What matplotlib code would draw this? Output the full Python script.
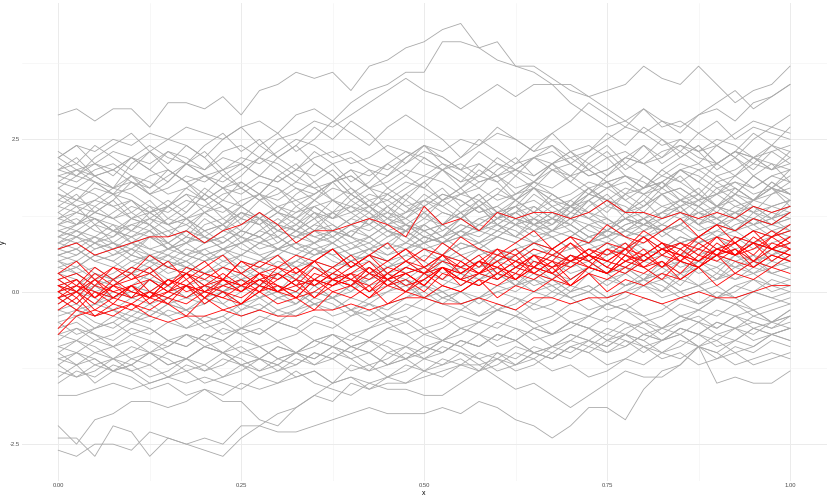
import matplotlib
matplotlib.use("Agg")
import matplotlib.pyplot as plt
import numpy as np

# x positions shared by every line
x_vals = np.linspace(0.0, 1.0, 41)

# gray series, values in tenths of y
gray_lines = [
    [29,30,28,30,30,27,31,31,30,32,29,33,34,36,35,36,33,37,38,40,41,43,44,40,41,37,37,35,33,32,30,28,30,27,28,26,28,25,27,26,25],
    [22,24,23,25,24,26,25,27,26,25,27,28,26,29,30,28,31,33,34,36,36,41,41,40,38,37,36,34,31,29,27,28,26,28,27,29,30,28,31,32,34],
    [20,19,21,20,22,21,23,22,20,23,24,22,25,26,28,27,29,31,33,35,33,32,30,32,34,32,34,34,34,32,33,34,37,35,34,37,34,31,33,34,37],
    [-22,-25,-21,-20,-18,-18,-19,-18,-16,-17,-15,-16,-15,-14,-13,-15,-12,-13,-10,-11,-9,-10,-8,-9,-7,-8,-6,-7,-5,-6,-8,-6,-5,-7,-5,-4,-6,-4,-3,-5,-3],
    [-24,-24,-27,-22,-23,-27,-24,-25,-24,-25,-22,-22,-23,-23,-22,-21,-20,-19,-20,-20,-20,-19,-20,-18,-19,-21,-22,-24,-22,-19,-19,-21,-16,-13,-12,-9,-10,-8,-9,-7,-8],
    [-26,-27,-25,-25,-26,-23,-24,-25,-26,-27,-24,-22,-20,-19,-17,-18,-15,-16,-14,-15,-13,-14,-12,-13,-11,-12,-10,-11,-9,-10,-8,-9,-7,-8,-6,-7,-5,-6,-5,-6,-5],
    [-17,-17,-16,-15,-16,-15,-14,-15,-14,-15,-16,-14,-15,-13,-15,-16,-17,-15,-14,-12,-13,-11,-12,-10,-11,-9,-10,-11,-9,-8,-10,-9,-7,-8,-6,-7,-9,-8,-6,-7,-6],
    [-14,-12,-15,-13,-14,-16,-15,-17,-16,-18,-18,-21,-22,-19,-17,-15,-14,-15,-16,-16,-17,-17,-15,-13,-10,-11,-9,-10,-8,-9,-7,-8,-10,-8,-7,-9,-7,-8,-6,-7,-6],
    [-10,-12,-11,-13,-12,-10,-11,-13,-12,-14,-13,-11,-12,-14,-13,-15,-14,-16,-15,-15,-14,-13,-12,-12,-14,-16,-15,-17,-19,-17,-15,-13,-14,-14,-12,-9,-15,-14,-15,-15,-13],
    [-12,-14,-13,-11,-12,-10,-12,-11,-9,-10,-12,-11,-13,-12,-10,-11,-9,-10,-12,-11,-13,-12,-11,-13,-12,-10,-11,-13,-12,-14,-13,-11,-12,-10,-11,-9,-10,-12,-11,-10,-11],
    [23,21,24,22,20,23,25,24,22,19,21,24,26,23,25,28,26,24,27,29,27,25,22,24,27,25,23,26,28,31,29,27,30,28,26,29,31,33,30,32,34],
    [22,24,21,19,22,20,18,21,23,20,17,19,22,24,21,19,16,18,21,19,17,20,22,25,23,21,24,26,23,21,19,22,24,21,23,26,24,22,25,27,26],
    [21,19,22,24,26,23,21,24,22,25,27,24,22,20,23,21,18,20,17,19,22,20,18,21,19,16,18,21,23,20,22,19,17,20,22,24,21,19,22,20,23],
    [20,22,19,17,19,16,18,21,19,17,14,16,19,17,15,18,20,17,19,22,24,21,19,17,20,22,19,21,18,16,19,21,24,22,25,23,20,22,19,21,18],
    [19,20,18,17,21,23,20,18,16,19,17,15,17,14,16,18,15,13,16,14,12,15,17,14,16,19,17,20,18,21,23,20,22,25,23,21,24,22,20,23,21],
    [18,17,19,20,22,20,23,21,24,26,23,25,22,24,27,25,28,26,23,21,24,22,20,23,21,19,22,24,21,23,26,24,27,25,22,24,21,23,26,24,27],
    [17,15,18,16,13,15,12,14,17,15,18,16,19,21,18,20,17,15,13,16,14,11,13,15,12,14,17,15,13,16,18,15,17,20,18,16,19,17,15,18,16],
    [16,15,17,16,19,17,20,18,15,17,19,22,20,18,21,19,16,14,17,15,18,20,17,19,22,20,18,21,19,22,24,21,19,17,20,18,21,23,21,24,22],
    [15,14,13,15,12,14,11,13,16,14,12,15,13,16,18,15,13,11,14,12,15,17,14,16,13,11,14,12,15,17,14,16,19,17,20,18,16,19,17,19,20],
    [14,16,13,15,18,16,14,17,15,12,14,16,13,11,14,12,15,17,14,16,18,15,17,20,18,15,13,16,14,17,15,12,14,16,13,15,18,16,19,17,15],
    [13,11,14,12,10,13,15,13,16,14,11,13,10,12,15,13,16,14,12,10,13,11,14,16,13,15,17,14,12,15,13,16,14,17,19,16,14,17,15,18,16],
    [12,14,11,13,15,12,14,16,13,11,14,12,9,11,13,10,12,14,11,13,16,14,12,15,17,15,18,16,14,17,15,13,16,18,15,17,14,16,19,17,20],
    [12,13,12,10,9,11,8,10,13,11,9,12,14,12,10,13,11,9,7,10,8,11,13,10,12,15,13,11,14,12,10,13,15,12,14,11,13,16,14,12,15],
    [11,12,10,9,12,11,9,12,10,8,10,13,11,14,12,15,17,14,12,15,13,10,12,14,11,13,16,14,12,15,17,15,13,16,14,11,14,12,15,17,14],
    [11,10,12,11,8,10,7,9,12,10,13,11,8,10,12,9,11,13,10,8,11,9,12,14,11,9,12,10,13,15,12,10,12,9,11,14,12,10,13,11,13],
    [10,11,13,12,13,11,14,12,9,11,8,10,12,10,13,11,9,12,14,11,13,15,13,10,12,14,11,13,11,14,16,13,15,18,16,14,17,15,13,16,18],
    [10,9,11,8,7,9,10,8,11,12,10,9,7,8,10,11,9,12,13,11,10,8,9,11,13,12,10,11,14,12,11,9,10,12,13,11,9,10,12,11,12],
    [9,11,12,10,8,9,7,8,10,11,13,12,10,9,11,13,14,12,10,11,9,8,10,12,13,11,12,14,15,13,12,10,11,13,14,16,14,13,15,14,15],
    [9,8,6,7,9,10,8,6,5,7,8,10,9,7,8,6,7,9,11,10,12,11,9,8,10,12,11,13,12,10,9,11,12,10,11,13,12,14,13,12,14],
    [8,10,9,11,10,12,11,9,8,10,12,11,13,12,10,9,7,8,10,9,11,13,12,10,11,13,14,12,11,9,10,12,11,13,15,14,12,13,11,12,10],
    [8,7,9,8,6,5,7,6,8,9,7,6,4,5,7,8,6,7,9,11,10,8,9,11,10,12,11,9,10,8,9,11,12,10,11,13,12,10,11,13,12],
    [7,6,8,10,9,7,8,6,5,6,8,9,11,10,8,9,11,12,10,9,7,8,10,9,11,10,8,7,9,11,10,12,13,11,10,12,11,13,14,12,13],
    [7,9,8,6,7,5,4,6,7,5,6,8,7,9,10,8,6,7,5,6,8,9,7,8,10,9,11,12,10,8,9,7,8,10,11,9,10,12,11,9,10],
    [6,5,7,8,6,9,8,10,9,7,6,8,9,7,6,8,10,9,11,10,8,9,11,10,12,13,11,10,12,11,9,10,12,14,13,11,12,10,12,14,13],
    [6,7,5,4,6,5,3,4,6,7,5,4,6,8,7,5,4,6,5,7,8,6,5,7,9,8,6,7,5,6,8,10,9,7,8,6,7,9,8,10,9],
    [5,6,8,7,5,6,4,5,7,8,10,9,7,6,8,10,9,8,6,7,9,8,10,12,11,9,8,10,9,11,12,10,9,11,10,8,9,11,12,10,11],
    [5,3,4,2,3,5,6,4,3,5,4,2,3,5,7,6,4,5,3,4,6,5,7,8,6,5,7,6,4,5,7,8,6,7,9,8,6,7,5,6,8],
    [4,5,3,2,4,6,5,7,6,4,3,5,6,4,5,7,8,6,5,3,4,6,8,7,5,6,8,9,7,8,10,9,7,6,8,9,11,10,8,9,10],
    [4,3,1,2,4,3,5,4,2,1,3,4,2,3,5,4,6,5,3,2,4,5,3,4,6,7,5,4,6,5,3,4,6,8,7,5,6,4,5,7,6],
    [3,4,6,5,3,4,2,3,5,6,4,5,7,6,4,3,5,7,6,8,7,5,6,4,5,7,8,6,7,9,8,6,5,7,9,8,10,9,7,8,9],
    [3,2,0,1,3,2,4,3,1,0,2,1,3,5,4,2,3,1,2,4,3,5,4,2,3,1,2,4,6,5,3,4,2,3,5,4,6,5,3,4,5],
    [2,3,1,2,4,3,5,4,3,1,2,4,3,1,2,4,5,3,4,6,5,3,4,6,7,5,4,6,5,7,8,6,5,7,6,8,9,7,8,6,7],
    [2,0,1,-1,0,2,1,-1,0,2,3,1,0,2,1,3,2,0,1,3,4,2,1,3,2,4,5,3,2,4,3,1,2,4,5,3,4,2,3,5,4],
    [1,2,0,-1,1,0,2,3,1,0,2,1,-1,0,2,1,3,4,2,1,3,2,4,5,3,2,4,3,5,6,4,3,5,4,6,7,5,4,6,5,7],
    [0,-2,1,-1,1,3,1,-1,1,-2,0,2,0,3,1,-1,1,4,2,0,2,5,3,1,3,1,4,2,5,3,1,3,6,4,2,5,3,6,4,7,5],
    [0,1,3,2,-1,0,-2,-1,1,0,-3,-1,0,-2,1,2,0,3,1,2,-1,1,3,2,4,1,2,0,2,4,3,1,2,5,3,4,2,5,6,3,4],
    [-1,-3,-2,0,-1,2,1,-1,-2,0,1,-1,-3,-2,0,-1,1,3,2,0,1,-1,0,2,4,3,1,2,0,3,5,4,2,3,1,4,2,3,5,4,6],
    [-2,0,-1,-3,-4,-2,-1,-3,-2,0,-2,-1,1,0,-2,-1,-3,-1,0,2,1,-1,0,-2,0,1,3,2,0,1,-1,1,2,0,3,1,2,4,3,1,2],
    [-3,-4,-2,-3,-5,-4,-2,-3,-1,-2,-4,-3,-1,0,-2,-1,-3,-4,-2,-1,1,0,-2,-1,1,2,0,-1,1,0,2,3,1,2,0,1,-1,1,2,0,1],
    [-4,-3,-5,-6,-4,-5,-3,-4,-6,-5,-3,-2,-4,-3,-1,-2,-4,-2,-3,-1,0,-2,-3,-1,0,-1,-3,-2,0,1,-1,0,2,1,-1,0,1,-1,0,2,1],
    [-5,-7,-6,-4,-5,-3,-4,-6,-5,-7,-6,-4,-5,-3,-2,-4,-3,-5,-4,-2,-3,-1,-2,-4,-3,-1,-2,0,-1,-3,-2,0,1,-1,0,-2,-1,1,0,-1,0],
    [-6,-5,-7,-8,-6,-7,-5,-6,-4,-5,-7,-6,-8,-7,-5,-6,-4,-3,-5,-4,-6,-5,-3,-4,-2,-3,-5,-4,-2,-1,-3,-2,-4,-3,-1,-2,0,-1,-3,-2,-1],
    [-7,-8,-6,-5,-7,-6,-8,-9,-7,-8,-6,-7,-5,-6,-8,-7,-9,-8,-6,-5,-7,-6,-4,-5,-3,-4,-6,-5,-3,-4,-2,-3,-5,-4,-2,-3,-1,-2,-4,-3,-2],
    [-8,-6,-7,-9,-8,-10,-9,-7,-8,-6,-7,-9,-8,-10,-9,-7,-8,-6,-5,-7,-6,-8,-7,-5,-6,-4,-5,-7,-6,-4,-5,-3,-4,-6,-5,-3,-4,-2,-3,-5,-4],
    [-9,-10,-8,-9,-7,-8,-10,-11,-9,-10,-8,-9,-11,-10,-8,-7,-9,-8,-10,-9,-7,-8,-6,-7,-9,-8,-6,-7,-5,-6,-8,-7,-5,-6,-4,-5,-7,-6,-4,-5,-3],
    [-10,-8,-9,-11,-10,-8,-9,-7,-8,-10,-9,-11,-12,-10,-11,-9,-10,-8,-9,-11,-10,-8,-9,-7,-8,-6,-7,-9,-8,-6,-7,-5,-6,-8,-7,-5,-6,-4,-5,-6,-4],
    [-11,-12,-10,-11,-13,-12,-10,-11,-9,-10,-12,-11,-9,-10,-8,-9,-11,-10,-12,-11,-9,-10,-8,-9,-7,-8,-10,-9,-7,-8,-9,-7,-8,-6,-7,-9,-8,-6,-7,-5,-6],
    [-12,-10,-11,-13,-12,-14,-13,-11,-12,-10,-11,-13,-12,-10,-11,-9,-10,-12,-11,-9,-10,-8,-9,-11,-10,-12,-11,-9,-10,-8,-9,-7,-8,-10,-9,-7,-8,-10,-9,-7,-8],
    [-13,-14,-12,-13,-11,-12,-14,-13,-15,-14,-12,-13,-11,-12,-10,-11,-13,-12,-14,-13,-11,-12,-10,-11,-13,-12,-10,-11,-9,-10,-12,-11,-9,-10,-8,-9,-11,-10,-12,-11,-10],
    [-15,-13,-14,-12,-13,-15,-14,-12,-13,-11,-12,-14,-13,-11,-12,-10,-11,-13,-12,-10,-11,-9,-10,-12,-11,-13,-12,-10,-11,-9,-10,-8,-9,-11,-10,-12,-11,-9,-10,-8,-9],
    [22,20,21,23,22,24,22,21,19,20,22,21,23,25,24,22,23,21,20,22,24,23,25,24,26,25,23,24,22,23,25,27,26,24,25,23,24,26,28,27,29],
    [20,21,19,20,18,17,19,21,20,22,21,19,18,20,22,23,21,22,24,23,21,20,18,19,21,20,22,23,21,19,20,22,21,23,24,22,21,23,22,24,23],
    [19,18,20,21,19,18,16,17,19,18,20,22,21,19,17,18,20,19,21,23,22,20,21,19,18,20,19,21,22,20,18,19,17,18,20,21,19,20,22,21,20],
    [17,19,18,16,17,19,20,18,19,17,16,18,17,15,16,18,19,17,18,20,19,21,20,18,19,21,22,20,21,19,20,22,21,19,18,20,21,23,22,20,21],
    [16,14,15,17,16,14,13,15,14,16,17,15,16,18,17,15,14,16,15,17,19,18,16,17,15,16,18,17,19,20,18,19,17,18,20,19,17,18,16,17,19],
    [15,17,16,14,15,13,14,16,15,17,18,16,15,17,16,18,19,17,16,18,17,15,16,18,19,17,18,20,19,17,18,16,17,19,21,20,18,19,21,20,22],
    [14,13,15,14,12,13,11,12,14,13,15,16,14,13,15,17,16,14,15,13,14,16,15,13,14,16,17,15,16,18,17,19,18,16,17,15,16,18,17,19,18],
    [13,15,14,16,15,13,14,12,13,15,14,12,11,13,14,12,13,15,16,14,15,13,12,14,16,15,17,16,14,15,17,18,16,17,15,14,16,17,15,16,17],
    [12,11,13,12,14,13,11,12,10,11,13,12,14,15,13,12,14,13,11,12,14,16,15,13,14,12,13,15,14,16,15,13,14,16,17,15,16,14,15,17,16],
    [11,13,12,10,11,12,10,11,13,14,12,11,13,12,14,15,13,14,12,13,15,14,16,15,13,14,15,13,14,16,15,17,16,14,15,13,14,16,15,17,16],
    [10,9,11,10,12,11,9,10,8,9,11,12,10,11,9,10,12,11,13,12,10,11,13,14,12,13,11,12,14,13,15,14,12,13,15,16,14,15,13,14,15],
    [9,10,8,9,11,10,12,11,9,8,10,9,11,10,12,13,11,10,12,11,9,10,12,11,13,14,12,11,13,12,14,13,11,12,14,15,13,12,14,13,14],
    [8,9,7,8,10,9,7,8,6,7,9,8,10,9,11,10,8,9,7,8,10,11,9,10,12,11,9,10,12,13,11,12,10,11,13,12,14,13,11,12,13],
    [7,8,9,7,8,6,7,9,8,10,9,7,8,10,9,8,10,11,9,10,8,9,11,10,9,11,12,10,11,9,10,12,11,13,12,10,11,13,12,11,12],
    [6,7,5,6,8,7,6,8,9,7,8,6,7,9,8,10,9,7,8,10,11,9,10,8,9,11,10,12,11,9,10,12,11,10,12,13,11,12,10,11,13],
    [5,4,6,5,7,6,4,5,3,4,6,5,7,8,6,7,5,6,8,7,9,8,6,7,9,8,10,9,7,8,10,9,11,10,8,9,11,10,12,11,10],
    [3,4,2,3,5,4,6,5,3,4,2,3,5,4,6,7,5,6,4,5,7,6,8,7,5,6,8,7,9,8,6,7,9,10,8,9,7,8,10,9,11],
    [1,0,2,1,3,2,0,1,-1,0,2,1,3,2,4,3,1,2,4,5,3,4,2,3,5,4,6,5,3,4,6,7,5,6,4,5,7,6,8,7,8],
    [-1,0,-2,-1,1,0,-1,1,2,0,1,-1,0,2,1,-1,0,2,3,1,2,0,1,3,2,4,3,1,2,4,3,5,4,2,3,5,4,6,5,3,4],
    [-3,-2,-4,-3,-1,-2,-4,-3,-5,-4,-2,-3,-1,-2,0,-1,-3,-2,0,1,-1,0,-2,-1,1,0,2,1,-1,0,2,1,3,2,0,1,3,2,4,3,2],
    [-5,-4,-6,-5,-3,-4,-2,-3,-5,-4,-6,-5,-3,-4,-2,-3,-1,-2,-4,-3,-1,-2,0,-1,-3,-2,0,1,-1,0,-2,-1,1,0,2,1,-1,0,2,1,0],
    [-7,-6,-8,-7,-5,-6,-8,-7,-9,-8,-6,-7,-5,-6,-4,-5,-7,-6,-4,-5,-3,-4,-6,-5,-3,-4,-2,-3,-5,-4,-2,-3,-1,-2,-4,-3,-1,-2,0,-1,-2],
    [-9,-8,-10,-9,-11,-10,-8,-9,-7,-8,-10,-9,-11,-10,-8,-9,-7,-8,-6,-7,-9,-8,-6,-7,-5,-6,-8,-7,-5,-6,-4,-5,-7,-6,-4,-5,-3,-4,-6,-5,-4],
    [-11,-10,-12,-11,-9,-10,-12,-11,-13,-12,-10,-11,-9,-10,-12,-11,-9,-10,-8,-9,-11,-10,-8,-9,-7,-8,-10,-9,-7,-8,-6,-7,-9,-8,-6,-7,-5,-6,-8,-7,-6],
    [18,20,19,17,18,16,17,19,18,20,21,19,18,20,19,21,22,20,19,21,23,22,20,21,19,20,22,21,23,24,22,23,21,22,24,23,25,24,22,23,24],
]

# red series, values in tenths of y
red_lines = [
    [7,8,6,7,8,9,9,10,8,10,11,13,11,8,10,10,11,12,11,9,14,11,12,10,13,12,13,13,12,13,15,13,13,12,13,12,13,12,14,13,14],
    [-6,-3,-4,-3,-2,-4,-5,-4,-4,-3,-4,-3,-4,-4,-3,-3,-2,-3,-2,-1,-1,-2,-2,-1,-2,-3,-1,-1,-2,-1,-1,0,-1,-2,-1,0,-1,-1,0,1,1],
    [3,5,2,4,3,6,4,3,5,2,5,4,6,3,5,7,4,6,5,7,5,8,6,4,7,6,8,7,9,6,8,7,10,8,7,9,11,8,10,9,11],
    [2,0,3,1,2,4,1,3,2,4,3,1,4,3,5,2,4,6,3,5,4,6,3,5,7,4,6,5,8,6,5,7,9,6,8,7,6,9,8,10,8],
    [1,2,-1,1,3,0,2,1,3,2,0,3,2,4,1,3,5,3,2,4,3,5,4,6,3,5,4,7,5,6,4,7,6,8,5,7,9,6,8,7,9],
    [0,-2,1,0,-1,2,0,1,-1,2,1,3,0,2,1,3,2,4,1,3,4,2,5,3,4,6,3,5,4,6,5,7,4,6,5,8,6,7,5,8,7],
    [0,1,-1,2,0,-1,1,3,0,1,2,0,3,1,2,4,2,1,3,5,3,4,2,5,4,3,6,4,5,7,5,4,6,8,6,5,7,6,9,7,8],
    [-1,1,0,-2,1,-1,0,2,-1,1,0,2,1,-1,2,1,3,0,2,3,1,4,2,3,5,2,4,3,6,4,3,5,7,4,6,5,7,6,8,5,7],
    [-1,-3,0,-1,1,-2,0,-1,1,0,-2,1,0,2,-1,1,2,0,3,1,2,4,1,3,2,4,3,5,2,4,3,6,4,5,3,6,5,7,4,6,5],
    [-2,0,-3,-1,-2,0,-1,1,-2,0,-1,1,0,-1,2,0,1,-1,2,0,3,1,0,2,1,3,2,4,1,3,2,4,3,5,2,4,6,3,5,4,6],
    [1,-1,2,0,1,-1,2,1,0,2,1,3,1,0,3,2,1,4,2,3,1,4,3,5,2,4,6,3,5,4,7,5,6,4,7,5,8,6,7,9,7],
    [2,3,1,4,2,3,1,4,3,2,5,3,4,2,5,4,6,3,5,7,4,6,5,3,6,5,7,6,8,5,7,6,9,7,8,6,9,8,10,7,9],
    [-3,-1,-4,-2,-3,-1,-2,-4,-1,-3,-2,0,-2,-1,-3,0,-1,1,-2,0,-1,1,0,2,-1,1,0,2,1,3,0,2,1,3,2,4,1,3,2,4,3],
    [0,2,-1,1,0,-1,2,0,1,3,1,0,2,4,2,1,3,2,4,3,1,4,3,5,4,2,5,4,6,5,3,6,5,7,6,4,7,6,8,7,6],
    [1,0,2,-1,1,2,0,3,1,2,0,2,3,1,4,2,3,5,2,4,3,6,4,3,5,7,4,6,5,7,6,8,5,7,6,9,7,8,6,9,10],
    [-1,0,-2,1,-1,0,-2,1,0,-1,1,2,0,1,-1,2,1,3,1,0,2,4,2,1,3,5,3,2,4,6,4,3,5,7,5,4,6,8,5,7,6],
    [3,1,4,2,4,3,5,2,4,6,3,5,4,6,5,7,4,6,8,5,7,6,9,7,6,8,10,7,9,8,11,9,8,10,12,9,11,10,12,11,13],
    [-7,-4,-3,-4,-2,-3,-1,-2,0,-1,-2,0,1,-1,0,2,1,-1,1,2,0,3,2,1,3,2,4,3,1,4,3,5,4,2,5,4,6,5,4,6,5],
]

x_ticks = [0.0, 0.25, 0.5, 0.75, 1.0]
x_tick_labels = ["0.00", "0.25", "0.50", "0.75", "1.00"]
y_ticks = [-2.5, 0.0, 2.5]
y_tick_labels = ["-2.5", "0.0", "2.5"]

plt.rcParams['font.family'] = ['Liberation Sans', 'DejaVu Sans']

fig = plt.figure(figsize=(8.30, 4.98), dpi=100)
ax = fig.add_axes([0.0261, 0.0347, 0.9698, 0.9593])

for s in gray_lines:
    ax.plot(x_vals, np.array(s) / 10.0, color='#A9A9A9', lw=0.6, zorder=2)
for s in red_lines:
    ax.plot(x_vals, np.array(s) / 10.0, color='#FF0000', lw=0.6, zorder=3)

ax.set_xlim(-0.05, 1.05)
ax.set_ylim(-3.10, 4.736)
ax.set_xticks(x_ticks)
ax.set_xticklabels(x_tick_labels)
ax.set_yticks(y_ticks)
ax.set_yticklabels(y_tick_labels)
ax.set_xticks([0.125, 0.375, 0.625, 0.875], minor=True)
ax.set_yticks([-1.25, 1.25, 3.75], minor=True)

ax.grid(which='major', color='#EBEBEB', lw=0.7, zorder=0)
ax.grid(which='minor', color='#F2F2F2', lw=0.4, zorder=0)
ax.set_axisbelow(True)
for sp in ax.spines.values():
    sp.set_visible(False)
ax.tick_params(which='both', length=0, labelsize=4.2, colors='#4D4D4D', pad=1.5)
ax.set_xlabel('x', fontsize=5, labelpad=1.5)
ax.set_ylabel('y', fontsize=5, labelpad=2)

fig.savefig('out.png', dpi=100)
